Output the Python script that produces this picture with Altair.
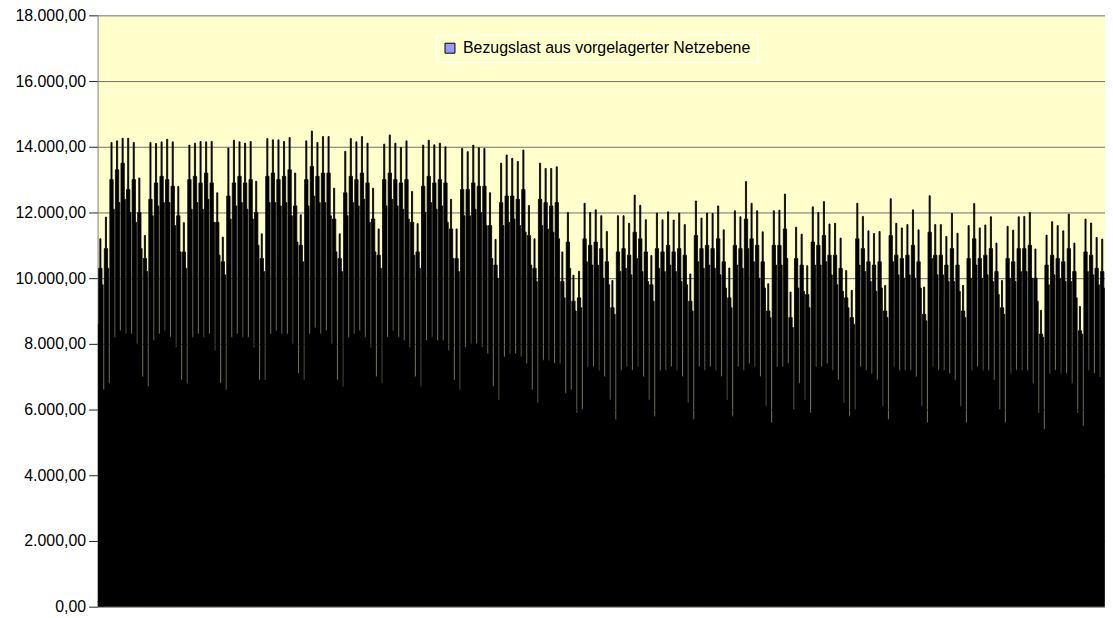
import altair as alt
import pandas as pd

SERIES = "Bezugslast aus vorgelagerter Netzebene"

# daily midday peak, 1 Jan - 30 Jun
peak = [
    11200, 11860,
    14130, 14180, 14260, 14260, 14130, 13050, 11300,
    14130, 14100, 14150, 14230, 14150, 12790, 11690,
    14050, 14110, 14160, 14150, 14160, 12600, 11250,
    13960, 14200, 14150, 14110, 14160, 12950, 11350,
    14250, 14210, 14210, 14160, 14280, 13200, 11930,
    14180, 14480, 14130, 14310, 14310, 12740, 11350,
    13860, 14250, 14150, 14310, 14110, 12740, 11500,
    14080, 14360, 14110, 13980, 14180, 12640, 11660,
    14050, 14200, 14060, 14110, 14000, 12400, 11500,
    13950, 13850, 14050, 13970, 13950, 12600, 11180,
    13500, 13750, 13650, 13550, 13900, 12210, 11200,
    13500, 13340, 13340, 13390, 10800, 12000, 10090,
    10210, 12280, 12000, 12080, 11900, 11420, 9930,
    11900, 11900, 11670, 12530, 12220, 11780, 10690,
    11980, 11780, 12020, 11770, 11980, 11630, 10130,
    12350, 11830, 11980, 11970, 12200, 11470, 10310,
    12050, 11870, 12940, 12280, 12050, 11410, 9830,
    12050, 12070, 12560, 9580, 11550, 11340, 10380,
    12170, 12000, 12330, 11650, 11670, 11220, 10230,
    9630, 12280, 11880, 11440, 11360, 11420, 9780,
    12420, 11670, 11530, 11630, 12080, 11470, 9730,
    12510, 11630, 11630, 11270, 11970, 11370, 9780,
    11600, 12270, 11530, 11620, 11870, 11070, 9930,
    11580, 11460, 11870, 11880, 12000, 10890, 9020,
    11310, 11720, 11600, 11440, 11950, 11070, 9140,
    11800, 11680, 11240, 11190,
]

# daily shoulder level (late morning / early afternoon), estimated
shoulder = [
    10300, 10900,
    13000, 13300, 13500, 12700, 13000, 12000, 10600,
    12400, 12900, 13100, 13000, 12800, 11900, 10800,
    13000, 13100, 12900, 13200, 12900, 11700, 10500,
    12500, 12900, 13100, 12900, 13000, 12000, 10600,
    13100, 13200, 13000, 13100, 13300, 12200, 11000,
    13000, 13400, 13100, 13200, 13200, 11800, 10600,
    12600, 13100, 13000, 13200, 12900, 11800, 10700,
    13000, 13200, 13000, 12900, 13000, 11700, 10800,
    12800, 13100, 12900, 13000, 12900, 11500, 10600,
    12700, 12700, 12900, 12800, 12800, 11600, 10400,
    12300, 12500, 12500, 12400, 12700, 11300, 10300,
    12400, 12300, 12200, 12300, 9900, 11100, 9300,
    9400, 11200, 11000, 11100, 10900, 10500, 9100,
    10800, 10900, 10700, 11400, 11200, 10800, 9800,
    10900, 10800, 11000, 10800, 10900, 10700, 9300,
    11300, 10900, 11000, 10900, 11200, 10500, 9400,
    11000, 10900, 11800, 11200, 11000, 10500, 9000,
    11000, 11000, 11500, 8800, 10600, 10400, 9500,
    11100, 11000, 11300, 10700, 10700, 10300, 9400,
    8800, 11200, 10900, 10500, 10400, 10500, 9000,
    11300, 10700, 10600, 10700, 11000, 10500, 8900,
    11400, 10700, 10700, 10400, 10900, 10400, 9000,
    10600, 11200, 10600, 10700, 10900, 10200, 9100,
    10600, 10500, 10900, 10900, 11000, 10000, 8300,
    10400, 10700, 10600, 10500, 10900, 10200, 8400,
    10800, 10700, 10300, 10200,
]

# evening level, estimated
evening = [
    9800, 10300,
    12100, 12300, 12400, 12000, 11700, 10900, 10200,
    11900, 12200, 12300, 12300, 11600, 10800, 10300,
    12100, 12300, 12100, 12400, 11700, 10700, 10100,
    11800, 12200, 12300, 12100, 11800, 11000, 10200,
    12300, 12300, 12200, 12300, 11900, 11100, 10500,
    12200, 12500, 12300, 12300, 11900, 10800, 10200,
    11900, 12300, 12200, 12400, 11700, 10800, 10300,
    12200, 12400, 12200, 12100, 11800, 10700, 10300,
    12000, 12300, 12100, 12200, 11700, 10600, 10200,
    11900, 11900, 12100, 12000, 11600, 10600, 10000,
    11600, 11700, 11800, 11600, 11400, 10400, 9900,
    11600, 11500, 11400, 11200, 9400, 10300, 9000,
    9100, 10500, 10400, 10400, 10000, 9800, 8900,
    10200, 10300, 10100, 10600, 10200, 9900, 9300,
    10300, 10200, 10400, 10200, 9900, 9800, 9000,
    10500, 10300, 10400, 10300, 10100, 9700, 9100,
    10400, 10300, 10900, 10500, 10000, 9700, 8800,
    10400, 10400, 10600, 8500, 9700, 9600, 9100,
    10400, 10400, 10500, 10100, 9800, 9600, 9100,
    8600, 10400, 10200, 9900, 9600, 9700, 8800,
    10500, 10100, 10000, 10100, 10000, 9700, 8700,
    10600, 10100, 10100, 9900, 9900, 9600, 8800,
    10000, 10400, 10000, 10100, 9900, 9500, 8900,
    10000, 9900, 10200, 10200, 10000, 9300, 8200,
    9800, 10100, 10000, 9900, 9900, 9400, 8300,
    10200, 10100, 9800, 9700,
]

# night trough, estimated
trough = [
    8600, 6600,
    6800, 8200, 8400, 8300, 8300, 8000, 7000,
    6700, 8100, 8300, 8400, 8200, 7900, 6900,
    6800, 8200, 8300, 8200, 8300, 7800, 6800,
    6600, 8200, 8300, 8200, 8200, 7900, 6900,
    6900, 8300, 8400, 8300, 8300, 8000, 7100,
    6900, 8300, 8500, 8300, 8400, 8000, 6900,
    6700, 8200, 8300, 8400, 8200, 7900, 7000,
    6800, 8200, 8400, 8200, 8100, 7900, 7000,
    6700, 8100, 8200, 8100, 8100, 7800, 6900,
    6600, 7900, 8000, 8000, 7900, 7700, 6700,
    6300, 7600, 7700, 7700, 7600, 7400, 6600,
    6200, 7500, 7500, 7400, 7400, 6500, 6600,
    5900, 6000, 7300, 7300, 7200, 7000, 6300,
    5700, 7200, 7300, 7200, 7300, 7000, 6300,
    5800, 7200, 7200, 7300, 7200, 7000, 6200,
    5700, 7300, 7200, 7300, 7200, 7000, 6300,
    5800, 7300, 7200, 7400, 7300, 7000, 6100,
    5600, 7300, 7300, 7400, 6000, 6800, 6300,
    5900, 7300, 7300, 7400, 7200, 6900, 6200,
    5800, 6000, 7300, 7200, 7100, 6900, 6100,
    5700, 7300, 7200, 7200, 7200, 7000, 6100,
    5600, 7300, 7200, 7200, 7100, 6900, 6100,
    5600, 7200, 7300, 7200, 7200, 6900, 6000,
    5600, 7100, 7200, 7200, 7200, 6800, 5900,
    5400, 7100, 7200, 7100, 7100, 6800, 5900,
    5500, 7200, 7100, 7000,
]

y_ticks = [0, 2000, 4000, 6000, 8000, 10000, 12000, 14000, 16000, 18000]

assert len(peak) == len(shoulder) == len(trough) == len(evening) == 181

n_days = len(peak)
rows = []
for d in range(n_days):
    day = [trough[d], shoulder[d], peak[d], shoulder[d], evening[d]]
    for k, v in enumerate(day):
        rows.append({"t": d + (k + 0.5) / len(day), "last": v, "series": SERIES})
df = pd.DataFrame(rows)

x_enc = alt.X("t:Q", scale=alt.Scale(domain=[0, n_days], nice=False, zero=False), axis=None)
label_expr = "replace(replace(replace(format(datum.value, ',.2f'), ',', '#'), '.', ','), '#', '.')"
y_enc = alt.Y(
    "last:Q",
    scale=alt.Scale(domain=[0, 18000], nice=False),
    axis=alt.Axis(
        values=y_ticks,
        labelExpr=label_expr,
        title=None,
        grid=True,
        gridColor="#6e6e6e",
        gridWidth=1,
        domainColor="#808080",
        tickColor="#222222",
        tickSize=9,
        labelPadding=3,
        labelFont="Liberation Sans",
        labelFontSize=16,
        labelColor="#000000",
    ),
)

area = alt.Chart(df).mark_area(
    interpolate="step", color="#000000", stroke="#000000", strokeWidth=0.8, clip=True
).encode(x=x_enc, y=y_enc)

leg_df = pd.DataFrame({"t": [0.0], "last": [0.0], "series": [SERIES]})
leg = alt.Chart(leg_df).mark_point(
    shape="square", filled=True, size=100, stroke="#000000", strokeWidth=1, opacity=1, clip=True
).encode(
    x=x_enc,
    y=y_enc,
    fill=alt.Fill(
        "series:N",
        scale=alt.Scale(range=["#9999FF"]),
        legend=alt.Legend(
            orient="none",
            legendX=340,
            legendY=19,
            title=None,
            direction="horizontal",
            symbolType="square",
            symbolSize=100,
            symbolStrokeColor="#000000",
            symbolStrokeWidth=1,
            symbolOpacity=1,
            labelFont="Liberation Sans",
            labelFontSize=16,
            labelColor="#000000",
            labelOffset=5,
            labelLimit=600,
            padding=6,
            strokeColor="#ffffff",
            fillColor="#FFFFCC",
        ),
    ),
)

chart = (
    alt.layer(leg, area)
    .properties(
        width=1012,
        height=594,
        autosize="none",
        padding={"left": 90, "top": 6, "right": 0, "bottom": 10},
    )
    .configure_view(fill="#FFFFCC", stroke="transparent")
)

chart.save("out.html", embed_options={"renderer": "svg", "actions": False})
